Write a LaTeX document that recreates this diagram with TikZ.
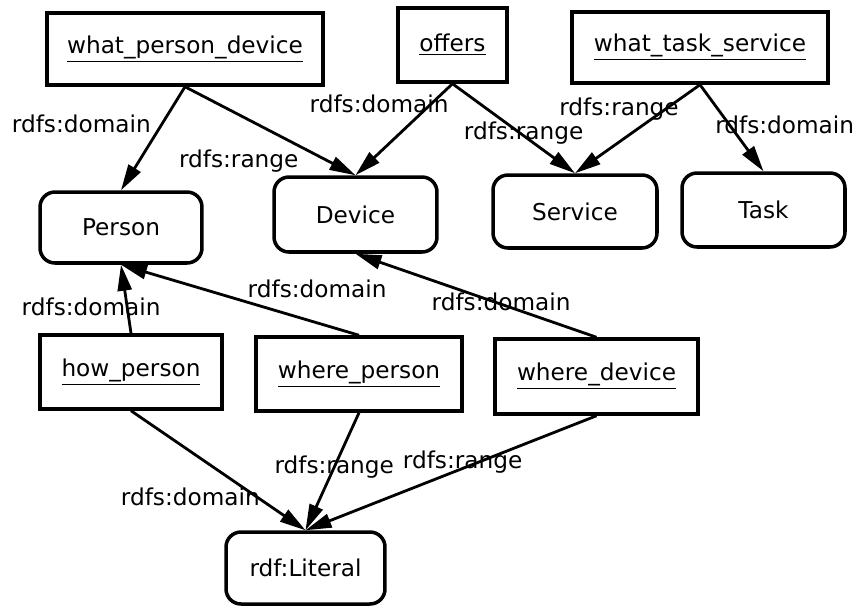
\documentclass[tikz,border=0pt]{standalone}
\usepackage{fontspec}
\setmainfont{DejaVu Sans}
\usetikzlibrary{shapes,arrows.meta}
\newcommand{\diafont}{\fontsize{13.2}{16}\selectfont}
\tikzstyle{prop} = [rectangle, draw, line width=2pt, text centered,
    inner sep=0pt, font=\diafont]
\tikzstyle{cls} = [rectangle, draw, rounded corners=0.3cm, line width=2pt,
    text centered, inner sep=0pt, font=\diafont]
\tikzstyle{arrow} = [draw, line width=1.6pt, -{Triangle[length=0.52cm, width=0.28cm]}]
\tikzstyle{lbl} = [inner sep=0pt, font=\diafont]

\begin{document}
\begin{tikzpicture}[x=0.02cm, y=-0.02cm]

    \useasboundingbox (0,0) rectangle (858,606);

    % Place nodes
    \node [prop, minimum width=5.52cm, minimum height=1.44cm] (wpd) at (185,49)
        {\underline{what\_person\_device}};
    \node [prop, minimum width=2.18cm, minimum height=1.48cm] (offers) at (452.5,45)
        {\underline{offers}};
    \node [prop, minimum width=5.12cm, minimum height=1.42cm] (wts) at (700,47.5)
        {\underline{what\_task\_service}};

    \node [cls, minimum width=3.24cm, minimum height=1.42cm] (person) at (121,227.5) {Person};
    \node [cls, minimum width=3.26cm, minimum height=1.5cm] (device) at (355.5,214.5) {Device};
    \node [cls, minimum width=3.28cm, minimum height=1.46cm] (service) at (575,211.5) {Service};
    \node [cls, minimum width=3.26cm, minimum height=1.48cm] (task) at (763.5,210) {Task};

    \node [prop, minimum width=3.64cm, minimum height=1.48cm] (howperson) at (131,372)
        {\underline{how\_person}};
    \node [prop, minimum width=4.12cm, minimum height=1.48cm] (whereperson) at (359,374)
        {\underline{where\_person}};
    \node [prop, minimum width=4.06cm, minimum height=1.5cm] (wheredevice) at (596.5,376.5)
        {\underline{where\_device}};

    \node [cls, minimum width=3.18cm, minimum height=1.44cm] (literal) at (305.5,568) {rdf:Literal};

    % Draw edges
    \path [arrow] (wpd.south)
    -- node [lbl, pos=0.355, xshift=-1.62cm] {rdfs:domain}
    (person.north);

    \path [arrow] (wpd.south)
    -- node [lbl, pos=0.837, xshift=-1.78cm] {rdfs:range}
    (device.north);

    \path [arrow] (offers.south)
    -- node [lbl, pos=0.221, xshift=-1.04cm] {rdfs:domain}
    (device.north);

    \path [arrow] (offers.south)
    -- node [lbl, pos=0.548, xshift=0.08cm] {rdfs:range}
    (service.north);

    \path [arrow] (wts.south)
    -- node [lbl, pos=0.272, xshift=-0.94cm] {rdfs:range}
    (service.north);

    \path [arrow] (wts.south)
    -- node [lbl, pos=0.467, xshift=1.1cm] {rdfs:domain}
    (task.north);

    \path [arrow] (howperson.north)
    -- node [lbl, pos=0.389, xshift=-0.72cm] {rdfs:domain}
    (person.south);

    \path [arrow] (whereperson.north)
    -- node [lbl, pos=0.176, yshift=0.68cm] {rdfs:domain}
    (person.south);

    \path [arrow] (wheredevice.north)
    -- node [lbl, pos=0.396, yshift=0.05cm] {rdfs:domain}
    (device.south);

    \path [arrow] (howperson.south)
    -- node [lbl, pos=0.724, xshift=-1.34cm] {rdfs:domain}
    (literal.north);

    \path [arrow] (whereperson.south)
    -- node [lbl, pos=0.463] {rdfs:range}
    (literal.north);

    \path [arrow] (wheredevice.south)
    -- node [lbl, pos=0.46, yshift=0.12cm] {rdfs:range}
    (literal.north);

\end{tikzpicture}
\end{document}
